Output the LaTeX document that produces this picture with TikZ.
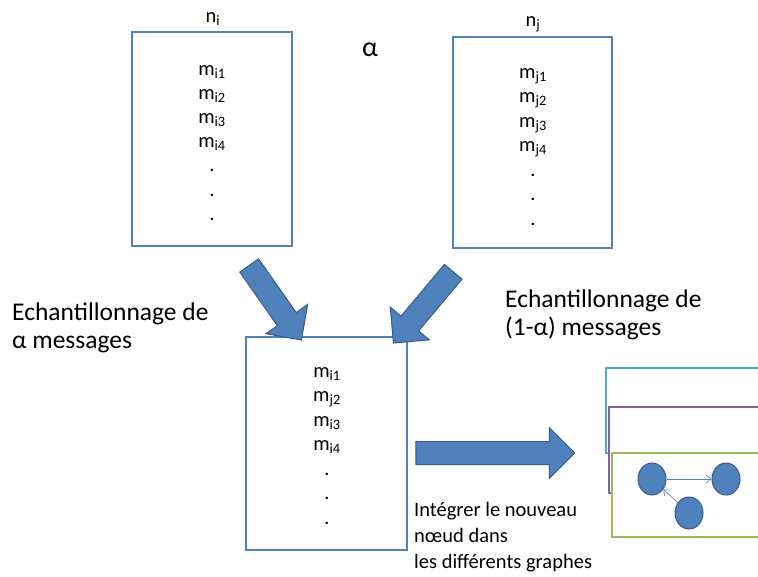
\documentclass[tikz,border=0pt]{standalone}
\usepackage{fontspec}
\setmainfont{Carlito}
\usetikzlibrary{shapes.arrows,shapes.geometric,arrows.meta}

\definecolor{boxblue}{HTML}{4F81BD}
\definecolor{arrowline}{HTML}{385D8A}
\definecolor{graphcyan}{HTML}{4BACC6}
\definecolor{graphpurple}{HTML}{8064A2}
\definecolor{graphgreen}{HTML}{9BBB59}

\tikzset{
  msgbox/.style={draw=boxblue, line width=1.4pt, fill=white, inner sep=0pt},
  msgline/.style={anchor=base, inner sep=0pt, font=\fontsize{20.5}{24}\selectfont},
  bigtext/.style={anchor=base west, inner sep=0pt, font=\fontsize{25.5}{30}\selectfont},
  smalltext/.style={anchor=base west, inner sep=0pt, font=\fontsize{20.5}{24}\selectfont},
  blockarrow/.style={single arrow, draw=arrowline, fill=boxblue, line width=1pt, inner sep=0pt,
    text width=0pt, text height=11pt, text depth=11pt, single arrow head extend=14pt, single arrow tip angle=90},
  graphframe/.style={line width=1.4pt, fill=white},
  gnode/.style={ellipse, draw=arrowline, fill=boxblue, line width=1pt, minimum width=28, minimum height=32, inner sep=0pt},
  gedge/.style={draw=boxblue, line width=0.6pt, -{Straight Barb[length=5pt,width=8pt]}}
}

\begin{document}
\begin{tikzpicture}[x=1pt, y=-1pt]
  \useasboundingbox (0,0) rectangle (758,576);
  % Define the two source nodes
  \node[msgbox, minimum width=160, minimum height=214] (ni) at (212,139) {};
  \node[msgbox, minimum width=159, minimum height=211] (nj) at (532.5,142.5) {};
  \node[msgline] (ni label) at (213,22) {n\textsubscript{i}};
  \node[msgline] (nj label) at (533,26) {n\textsubscript{j}};
  \node[anchor=base, inner sep=0pt, font=\fontsize{28}{32}\selectfont] (alpha) at (370,56) {α};
  \foreach \t [count=\k] in {m\textsubscript{i1},m\textsubscript{i2},m\textsubscript{i3},m\textsubscript{i4},.,.,.}
    \node[msgline] (ni\k) at (212,75+24.2*\k-24.2) {\t};
  \foreach \t [count=\k] in {m\textsubscript{j1},m\textsubscript{j2},m\textsubscript{j3},m\textsubscript{j4},.,.,.}
    \node[msgline] (nj\k) at (533,78+24.5*\k-24.5) {\t};
  % New node
  \node[msgbox, minimum width=161, minimum height=213] (nk) at (326.5,443.5) {};
  \foreach \t [count=\k] in {m\textsubscript{i1},m\textsubscript{j2},m\textsubscript{i3},m\textsubscript{i4},.,.,.}
    \node[msgline] (nk\k) at (327,377+24.5*\k-24.5) {\t};
  % Sampling arrows
  \node[blockarrow, minimum height=91, rotate=-55] (left arrow) at (272,298) {};
  \node[blockarrow, minimum height=93, rotate=-130] (right arrow) at (427,303) {};
  \node[bigtext] (left text1) at (12,320) {Echantillonnage de};
  \node[bigtext] (left text2) at (12,348) {α messages};
  \node[bigtext] (right text1) at (505,307) {Echantillonnage de};
  \node[bigtext] (right text2) at (505,335) {(1-α) messages};
  % Integration arrow
  \node[blockarrow, minimum height=159] (int arrow) at (489.5,453) {};
  \node[smalltext] (int1) at (414,516) {Intégrer le nouveau};
  \node[smalltext] (int2) at (414,542) {nœud dans};
  \node[smalltext] (int3) at (414,568) {les différents graphes};
  % Graphs
  \begin{scope}
    \clip (0,0) rectangle (758,576);
    \draw[graphframe, draw=graphcyan] (606,368) rectangle (770,453);
    \draw[graphframe, draw=graphpurple] (609,407) rectangle (770,493);
    \draw[graphframe, draw=graphgreen] (612,453) rectangle (770,537);
  \end{scope}
  \node[gnode] (g1) at (652,479) {};
  \node[gnode] (g2) at (726,479) {};
  \node[gnode] (g3) at (689,513) {};
  \draw[gedge] (g1) -- (g2);
  \draw[gedge] (g3) -- (g1);
\end{tikzpicture}
\end{document}
